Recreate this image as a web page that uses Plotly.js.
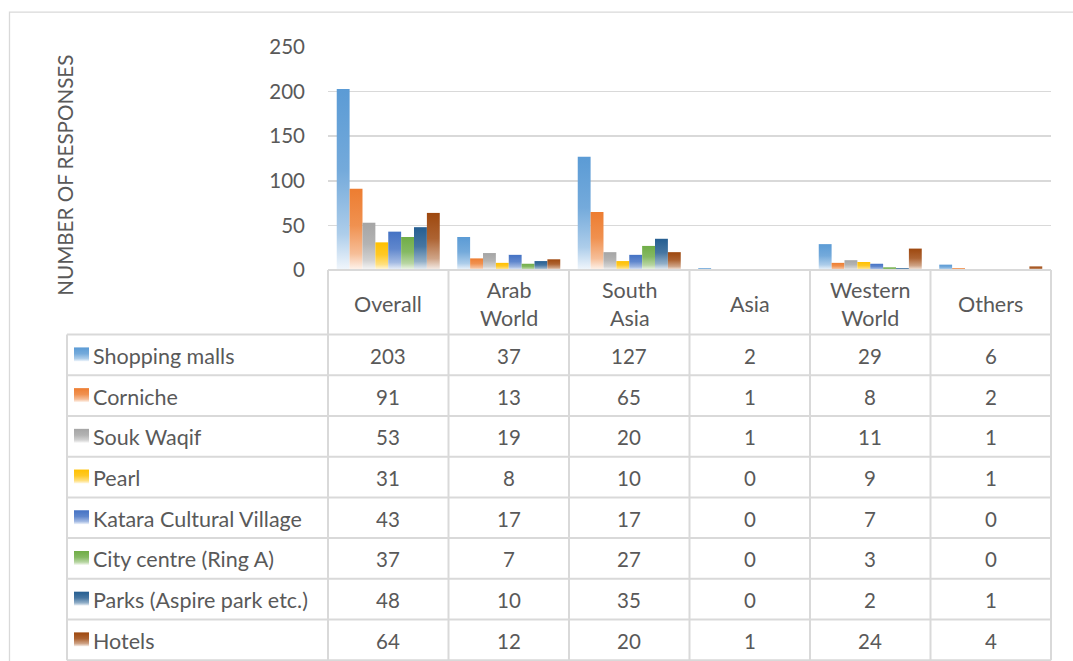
<!DOCTYPE html>
<html>
<head>
<meta charset="utf-8">
<script src="https://cdn.plot.ly/plotly-3.0.1.min.js"></script>
<style>
  html, body { margin: 0; padding: 0; background: #ffffff; }
  #chart { width: 1073px; height: 661px; }
</style>
</head>
<body>
<div id="chart"></div>
<script>
// ---------------- DATA ----------------
const categories = ['Overall', 'Arab World', 'South Asia', 'Asia', 'Western World', 'Others'];
const headerLabels = ['Overall', 'Arab<br>World', 'South<br>Asia', 'Asia', 'Western<br>World', 'Others'];
const seriesNames = ['Shopping malls', 'Corniche', 'Souk Waqif', 'Pearl',
  'Katara Cultural Village', 'City centre (Ring A)', 'Parks (Aspire park etc.)', 'Hotels'];
const shoppingMalls = [203, 37, 127, 2, 29, 6];
const corniche      = [91, 13, 65, 1, 8, 2];
const soukWaqif     = [53, 19, 20, 1, 11, 1];
const pearl         = [31, 8, 10, 0, 9, 1];
const katara        = [43, 17, 17, 0, 7, 0];
const cityCentre    = [37, 7, 27, 0, 3, 0];
const parks         = [48, 10, 35, 0, 2, 1];
const hotels        = [64, 12, 20, 1, 24, 4];
const seriesValues = [shoppingMalls, corniche, soukWaqif, pearl, katara, cityCentre, parks, hotels];
const yTickValues = [0, 50, 100, 150, 200, 250];
const yAxisTitle = 'NUMBER OF RESPONSES';

// ---------------- STYLE ----------------
const colors = ['#5B9BD5', '#ED7D31', '#A5A5A5', '#FFC000', '#4472C4', '#70AD47', '#255E91', '#9E480E'];
const FONT = 'Lato, "Open Sans", sans-serif';
const TXT = '#595959';
const LINE = '#d9d9d9';
const LABEL_SIZE = 21.5;
const NUM_SIZE = 20.5;

const W = 1073, H = 661;
const plotL = 328, plotR = 1051, plotT = 46.5, plotB = 270;
const pw = plotR - plotL, ph = plotB - plotT;
const px2x = p => (p - plotL) / pw;
const px2y = p => (plotB - p) / ph;

const rowTop = 334.7, rowH = 40.8;
const legendLeft = 67;

// ---------------- TRACES ----------------
const traces = seriesNames.map((name, i) => ({
  type: 'bar',
  name: name,
  x: categories,
  y: seriesValues[i],
  marker: { color: colors[i], line: { width: 0 } },
  showlegend: false,
  hoverinfo: 'skip'
}));

// ---------------- TABLE (shapes + annotations) ----------------
const shapes = [];
const annotations = [];
const lineStyle = { color: LINE, width: 2 };

// outer chart border
shapes.push({ type: 'rect', xref: 'paper', yref: 'paper',
  x0: px2x(9.5), x1: px2x(1090), y0: px2y(11.5), y1: px2y(720),
  line: { color: LINE, width: 1.3 }, fillcolor: 'rgba(0,0,0,0)', layer: 'below' });

const nCat = categories.length;
const tableBottom = rowTop + rowH * seriesNames.length;
for (let c = 0; c <= nCat; c++) {
  shapes.push({ type: 'line', xref: 'paper', yref: 'paper',
    x0: c / nCat, x1: c / nCat, y0: 0, y1: px2y(tableBottom), line: lineStyle });
}
shapes.push({ type: 'line', xref: 'paper', yref: 'paper',
  x0: px2x(legendLeft), x1: px2x(legendLeft), y0: px2y(rowTop), y1: px2y(tableBottom), line: lineStyle });
shapes.push({ type: 'line', xref: 'paper', yref: 'paper',
  x0: 0, x1: 1, y0: 0, y1: 0, line: lineStyle });
for (let r = 0; r <= seriesNames.length; r++) {
  const yy = px2y(rowTop + rowH * r);
  shapes.push({ type: 'line', xref: 'paper', yref: 'paper',
    x0: px2x(legendLeft), x1: 1, y0: yy, y1: yy, line: lineStyle });
}
const keyShapeIdx = [];
seriesNames.forEach((name, i) => {
  const cy = rowTop + rowH * (i + 0.5);
  keyShapeIdx.push(shapes.length);
  shapes.push({ type: 'rect', xref: 'paper', yref: 'paper',
    x0: px2x(74), x1: px2x(89), y0: px2y(cy - 7.5), y1: px2y(cy + 6.5),
    fillcolor: colors[i], line: { width: 0 } });
});

categories.forEach((cat, c) => {
  annotations.push({ xref: 'x', yref: 'paper', x: cat, y: px2y(304),
    text: headerLabels[c], showarrow: false, xanchor: 'center', yanchor: 'middle',
    font: { family: FONT, size: LABEL_SIZE, color: TXT } });
});
seriesNames.forEach((name, i) => {
  const cy = rowTop + rowH * (i + 0.5) + 1;
  annotations.push({ xref: 'paper', yref: 'paper', x: px2x(91), y: px2y(cy),
    text: name, showarrow: false, xanchor: 'left', yanchor: 'middle',
    font: { family: FONT, size: LABEL_SIZE, color: TXT } });
  categories.forEach((cat, c) => {
    annotations.push({ xref: 'x', yref: 'paper', x: cat, y: px2y(cy),
      text: String(seriesValues[i][c]), showarrow: false, xanchor: 'center', yanchor: 'middle',
      font: { family: FONT, size: NUM_SIZE, color: TXT } });
  });
});
annotations.push({ xref: 'paper', yref: 'paper', x: px2x(65), y: px2y(175.5),
  text: yAxisTitle, textangle: -90, showarrow: false, xanchor: 'center', yanchor: 'middle',
  font: { family: FONT, size: 20.6, color: TXT } });

// ---------------- LAYOUT ----------------
const layout = {
  width: W, height: H,
  margin: { l: plotL, r: W - plotR, t: plotT, b: H - plotB, pad: 0 },
  paper_bgcolor: '#ffffff', plot_bgcolor: '#ffffff',
  barmode: 'group', bargap: 0.145, bargroupgap: 0,
  showlegend: false,
  hovermode: false,
  xaxis: { type: 'category', showticklabels: false, showgrid: false, zeroline: false,
    showline: false, ticks: '', fixedrange: true },
  yaxis: { range: [0, 250], tickvals: yTickValues, showgrid: true, gridcolor: LINE, gridwidth: 1.5,
    zeroline: false, showline: false, ticks: '', ticklabelstandoff: 22,
    tickfont: { family: FONT, size: NUM_SIZE, color: TXT }, fixedrange: true },
  shapes: shapes,
  annotations: annotations,
  font: { family: FONT, color: TXT }
};

// ---------------- GRADIENTS ----------------
function mix(hex, t) {
  const n = parseInt(hex.slice(1), 16);
  const r = (n >> 16) & 255, g = (n >> 8) & 255, b = n & 255;
  const m = v => Math.round(v + (255 - v) * t);
  return 'rgb(' + m(r) + ',' + m(g) + ',' + m(b) + ')';
}
function addGradients(gd) {
  const svgNS = 'http://www.w3.org/2000/svg';
  const svg = gd.querySelector('svg.main-svg');
  let defs = svg.querySelector('defs');
  if (!defs) { defs = document.createElementNS(svgNS, 'defs'); svg.insertBefore(defs, svg.firstChild); }
  const stops = [[0, 0], [0.45, 0.15], [0.8, 0.5], [1, 0.92]];
  colors.forEach((col, i) => {
    const lg = document.createElementNS(svgNS, 'linearGradient');
    lg.setAttribute('id', 'bargrad' + i);
    lg.setAttribute('x1', '0'); lg.setAttribute('y1', '0');
    lg.setAttribute('x2', '0'); lg.setAttribute('y2', '1');
    stops.forEach(s => {
      const st = document.createElementNS(svgNS, 'stop');
      st.setAttribute('offset', s[0]);
      st.setAttribute('stop-color', mix(col, s[1]));
      lg.appendChild(st);
    });
    defs.appendChild(lg);
  });
  gd.querySelectorAll('.barlayer .trace').forEach((tr, i) => {
    tr.querySelectorAll('path').forEach(p => { p.style.fill = 'url(#bargrad' + i + ')'; });
  });
  keyShapeIdx.forEach((idx, i) => {
    gd.querySelectorAll('.shapelayer path[data-index="' + idx + '"]').forEach(p => {
      p.style.fill = 'url(#bargrad' + i + ')';
      p.style.fillOpacity = 1;
    });
  });
}

const gd = document.getElementById('chart');
Plotly.newPlot(gd, traces, layout, { staticPlot: true, displayModeBar: false }).then(addGradients);
</script>
</body>
</html>
